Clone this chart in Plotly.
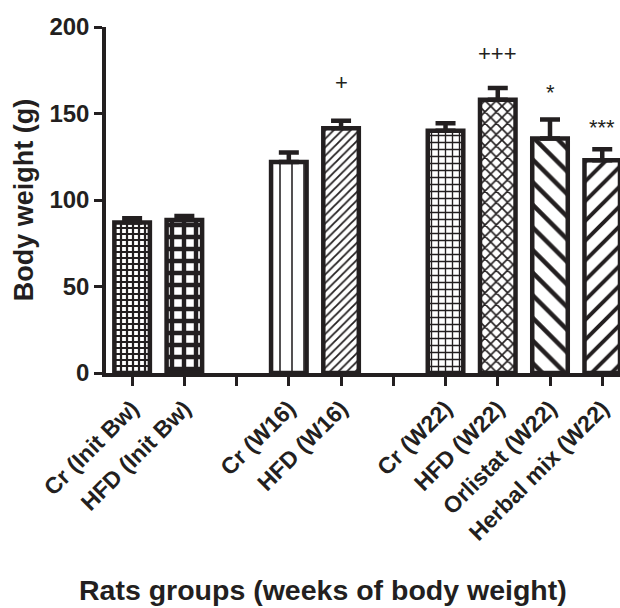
import plotly.graph_objects as go

# ---- data ----
groups = [
    ["Cr (Init Bw)", "HFD (Init Bw)"],
    ["Cr (W16)", "HFD (W16)"],
    ["Cr (W22)", "HFD (W22)", "Orlistat (W22)", "Herbal mix (W22)"],
]
means = [87, 88.5, 122, 141.5, 140, 158, 135.5, 123]
sem = [2.5, 2.3, 5.5, 4.3, 4.3, 6.7, 11, 6.3]
signif = ["", "", "", "+", "", "+++", "*", "***"]

# pattern per bar
pat_shape = ["+", "+", "|", "/", "+", "x", "\\", "/"]
pat_size = [6, 12, 12, 6, 7, 8, 16, 14]
pat_solid = [0.6, 0.6, 0.13, 0.3, 0.35, 0.38, 0.28, 0.28]
sig_shift = [0, 0, 0, 24, 0, 20, 13, 7]

# positions: one empty slot between groups
xpos, tickvals, ticktext = [], [], []
p = 0
for gi, g in enumerate(groups):
    for name in g:
        xpos.append(p)
        tickvals.append(p)
        ticktext.append(name)
        p += 1
    if gi < len(groups) - 1:
        tickvals.append(p)
        ticktext.append("")
        p += 1

INK = "#231f20"
FONT = "Liberation Sans, Arial, sans-serif"

fig = go.Figure()
fig.add_trace(go.Bar(
    x=xpos, y=means, width=0.68,
    marker=dict(
        color="white",
        line=dict(color=INK, width=4.5),
        pattern=dict(shape=pat_shape, size=pat_size, solidity=pat_solid,
                     fgcolor=INK, bgcolor="white", fgopacity=1,
                     fillmode="replace"),
    ),
    error_y=dict(type="data", array=sem, arrayminus=[0] * len(sem),
                 symmetric=False, color=INK, thickness=4.5, width=10),
    showlegend=False,
))

for x, m, s, t, sh in zip(xpos, means, sem, signif, sig_shift):
    if t:
        fig.add_annotation(x=x, y=m + s, text=t, showarrow=False,
                           yanchor="bottom", yshift=sh,
                           font=dict(family=FONT, size=22, color=INK))

fig.add_annotation(xref="paper", yref="paper", x=0.423, y=-0.627,
                   text="<b>Rats groups (weeks of body weight)</b>",
                   showarrow=False, xanchor="center", yanchor="middle",
                   font=dict(family=FONT, size=28.5, color=INK))

fig.update_layout(
    width=620, height=608,
    margin=dict(l=106, r=0, t=27, b=235, autoexpand=False),
    plot_bgcolor="white", paper_bgcolor="white",
    font=dict(family=FONT, color=INK),
)
fig.update_xaxes(
    range=[-0.5, 9.34], tickmode="array", tickvals=tickvals,
    ticktext=["<b>%s</b>" % t if t else "" for t in ticktext],
    tickangle=-45, tickfont=dict(family=FONT, size=23, color=INK),
    ticks="outside", ticklen=9, tickwidth=3, tickcolor=INK,
    showline=True, linecolor=INK, linewidth=3.5, showgrid=False, zeroline=False,
    automargin=False, ticklabeloverflow="allow",
)
fig.update_yaxes(
    range=[0, 200], tickvals=[0, 50, 100, 150, 200],
    ticktext=["<b>%d</b>" % v for v in [0, 50, 100, 150, 200]],
    tickfont=dict(family=FONT, size=24, color=INK),
    ticks="outside", ticklen=8, tickwidth=3, tickcolor=INK,
    showline=True, linecolor=INK, linewidth=3.5, showgrid=False, zeroline=False,
    title=dict(text="<b>Body weight (g)</b>", font=dict(family=FONT, size=27, color=INK),
               standoff=9),
    automargin=False,
)

fig.write_html("out.html", config={"displayModeBar": False},
               post_script="document.body.style.margin='0';document.body.style.overflow='hidden';")
